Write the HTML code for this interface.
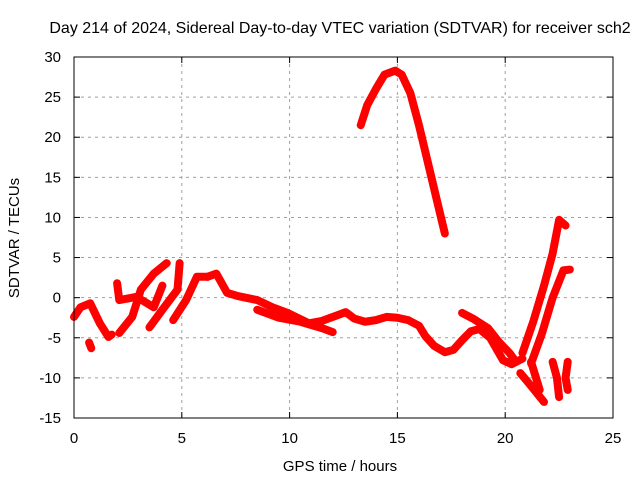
<!DOCTYPE html>
<html><head><meta charset="utf-8"><style>
body{margin:0;background:#fff}
svg text{font-family:"Liberation Sans",sans-serif;font-size:15px;fill:#000}
</style></head><body>
<svg id="chart" width="640" height="480" xmlns="http://www.w3.org/2000/svg">
<text x="340" y="33" text-anchor="middle" style="font-size:16px">Day 214 of 2024, Sidereal Day-to-day VTEC variation (SDTVAR) for receiver sch2</text>
<g id="grid"></g>
<g id="ticks"></g>
<g id="series"></g>
<rect x="74" y="57" width="539" height="361" fill="none" stroke="#000" stroke-width="1"/>
<text x="340" y="471" text-anchor="middle">GPS time / hours</text>
<text transform="translate(19,238) rotate(-90)" text-anchor="middle">SDTVAR / TECUs</text>
</svg>
<script>
const xTicks=[0,5,10,15,20,25];
const yTicks=[30,25,20,15,10,5,0,-5,-10,-15];
const trackArc=[[13.3,21.5],[13.6,24],[14,26],[14.4,27.8],[14.9,28.3],[15.2,27.8],[15.6,25.5],[16,21.5],[16.4,17],[16.8,12.5],[17.2,8]];
const trackMain=[[6.2,2.6],[6.6,3],[7.1,0.6],[7.6,0.2],[8.5,-0.3],[9.2,-1.2],[9.9,-1.9],[10.9,-3.2],[11.5,-2.9],[12.2,-2.2],[12.6,-1.8],[13,-2.6],[13.5,-3],[14,-2.8],[14.5,-2.4],[15,-2.5],[15.5,-2.8],[16,-3.5],[16.3,-4.8],[16.7,-6],[17.2,-6.8],[17.6,-6.5],[18,-5.3],[18.4,-4.2],[18.8,-3.9],[19.3,-5],[19.9,-7.8],[20.3,-8.3],[20.8,-7.6]];
const trackMain2=[[18,-1.9],[18.5,-2.6],[19.2,-3.8],[19.7,-5.5],[20.2,-6.9],[20.5,-8]];
const trackLow=[[8.5,-1.5],[9.5,-2.5],[10.5,-3],[11.5,-3.8],[12,-4.3]];
const trackEarly1=[[0,-2.4],[0.3,-1.2],[0.75,-0.7],[1.2,-3.2],[1.6,-4.9],[1.75,-4.6]];
const trackBlob=[[0.7,-5.6],[0.8,-6.3]];
const trackEarly2=[[2.1,-4.4],[2.7,-2.4],[3.1,1],[3.7,3],[4.3,4.3]];
const trackEarly3=[[2.0,1.8],[2.1,-0.3],[2.9,0.1],[3.7,-1.2],[4.1,1.5]];
const trackEarly4=[[3.5,-3.7],[4.1,-1.5],[4.8,1],[4.9,4.3]];
const trackEarly5=[[4.6,-2.8],[5.2,-0.3],[5.7,2.6],[6.2,2.6]];
const trackRise1=[[20.8,-6.9],[21.3,-3],[21.8,1.5],[22.2,5.5],[22.5,9.7],[22.8,9]];
const trackRise2=[[21.2,-8.2],[21.7,-4.5],[22.2,0],[22.7,3.4],[23,3.5]];
const trackDown1=[[20.7,-9.4],[21.2,-11],[21.8,-13]];
const trackDown2=[[21.2,-8],[21.6,-11.5]];
const trackDown3=[[22.2,-8],[22.4,-10],[22.5,-12.4]];
const trackDown4=[[22.9,-8],[22.8,-10],[22.9,-11.5]];
const tracks=[trackArc,trackMain,trackMain2,trackLow,trackEarly1,trackBlob,trackEarly2,trackEarly3,trackEarly4,trackEarly5,trackRise1,trackRise2,trackDown1,trackDown2,trackDown3,trackDown4];
const X0=74,X1=613,Y0=418,Y1=57;
function sx(v){return X0+(v-0)/(25-0)*(X1-X0);}
function sy(v){return Y0-(v+15)/45*(Y0-Y1);}
const NS="http://www.w3.org/2000/svg";
const grid=document.getElementById('grid'),ticks=document.getElementById('ticks'),series=document.getElementById('series');
function mk(t,a){const e=document.createElementNS(NS,t);for(const k in a)e.setAttribute(k,a[k]);return e;}
xTicks.forEach(v=>{const x=sx(v);
 if(v>0&&v<25){const g=mk('line',{x1:x,x2:x,y1:Y1,y2:Y0,stroke:'#a0a0a0','stroke-dasharray':'3,4'});
 
 grid.appendChild(g);}
 const t=mk('line',{x1:x,x2:x,y1:Y0,y2:Y0-6,stroke:'#000'});
 
 ticks.appendChild(t);
 const t2=mk('line',{x1:x,x2:x,y1:Y1,y2:Y1+6,stroke:'#000'});
 
 ticks.appendChild(t2);
 const l=mk('text',{x:x,y:443,'text-anchor':'middle'});l.textContent=v;
 
 ticks.appendChild(l);});
yTicks.forEach(v=>{const y=sy(v);
 if(v>-15&&v<30){const g=mk('line',{x1:X0,x2:X1,y1:y,y2:y,stroke:'#a0a0a0','stroke-dasharray':'3,4'});
 
 grid.appendChild(g);}
 const t=mk('line',{x1:X0,x2:X0+6,y1:y,y2:y,stroke:'#000'});
 
 ticks.appendChild(t);
 const t2=mk('line',{x1:X1,x2:X1-6,y1:y,y2:y,stroke:'#000'});
 
 ticks.appendChild(t2);
 const l=mk('text',{x:61,y:y+5,'text-anchor':'end'});l.textContent=v;
 
 ticks.appendChild(l);});
tracks.forEach(tr=>{
 const p=mk('polyline',{points:tr.map(d=>sx(d[0])+','+sy(d[1])).join(' '),fill:'none',stroke:'#ff0000','stroke-width':8,'stroke-linejoin':'round','stroke-linecap':'round'});
 
 
 series.appendChild(p);});
</script>
</body></html>
